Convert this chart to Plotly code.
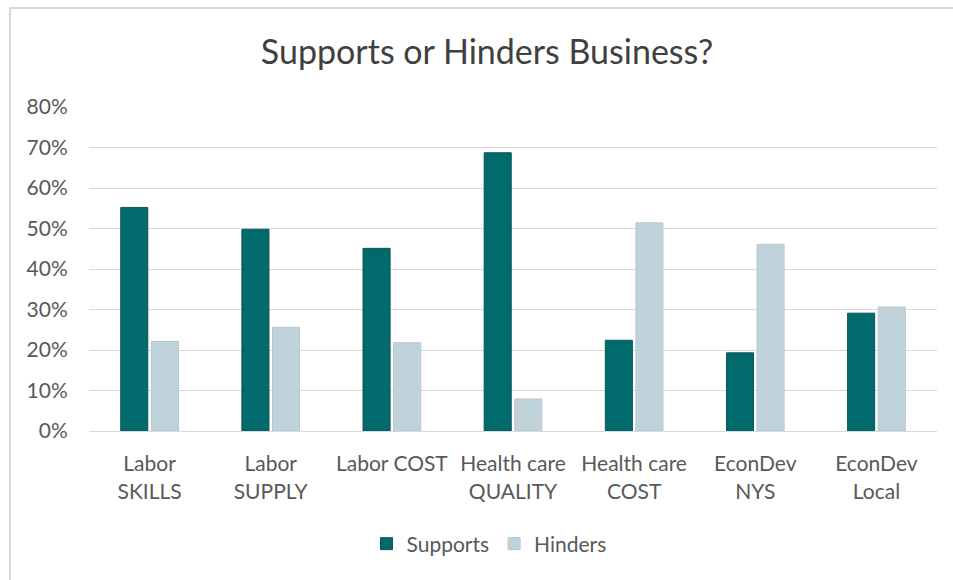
import plotly.graph_objects as go

categories = ["Labor<br>SKILLS", "Labor<br>SUPPLY", "Labor COST", "Health care<br>QUALITY",
              "Health care<br>COST", "EconDev<br>NYS", "EconDev<br>Local"]
supports = [0.552, 0.498, 0.451, 0.687, 0.224, 0.193, 0.291]
hinders = [0.221, 0.256, 0.218, 0.079, 0.514, 0.461, 0.306]
y_ticks = [0, 0.1, 0.2, 0.3, 0.4, 0.5, 0.6, 0.7, 0.8]
y_labels = ["0%", "10%", "20%", "30%", "40%", "50%", "60%", "70%", "80%"]

FONT = "Lato"
TXT = "#595959"

fig = go.Figure()
fig.add_trace(go.Bar(name="Supports", x=categories, y=supports,
                     marker=dict(color="#006A6D", line=dict(color="#0D5557", width=1))))
fig.add_trace(go.Bar(name="Hinders", x=categories, y=hinders,
                     marker=dict(color="#C0D3DA", line=dict(color="#B4C8D0", width=1))))

W, H = 953, 580
L, R, T, B = 89, 16, 107, 149
pw, ph = W - L - R, H - T - B

def px(x):
    return (x - L) / pw

def py(y):
    return (H - B - y) / ph

fig.update_layout(
    width=W, height=H,
    margin=dict(l=L, r=R, t=T, b=B),
    paper_bgcolor="white", plot_bgcolor="white",
    barmode="group", bargap=0.495, bargroupgap=0.115,
    font=dict(family=FONT, color=TXT, size=21),
    title=dict(text="Supports or Hinders Business?", x=487 / W, xref="container", xanchor="center",
               y=1 - 52 / H, yref="container", yanchor="middle",
               font=dict(size=34, color="#404040", family=FONT)),
    legend=dict(orientation="h", x=px(489), xanchor="center", y=py(544), yanchor="middle",
                font=dict(size=21, color=TXT), itemwidth=30, traceorder="normal"),
    xaxis=dict(showgrid=False, showline=True, linecolor="#D9D9D9", linewidth=1,
               ticks="outside", ticklen=14, tickcolor="rgba(0,0,0,0)",
               tickfont=dict(size=21, color=TXT), tickangle=0),
    yaxis=dict(range=[0, 0.8], tickvals=y_ticks, ticktext=y_labels,
               showgrid=True, gridcolor="#D9D9D9", gridwidth=1, zeroline=False,
               ticks="outside", ticklen=16, tickcolor="rgba(0,0,0,0)",
               tickfont=dict(size=21, color=TXT)),
    shapes=[dict(type="rect", xref="paper", yref="paper",
                 x0=px(10), x1=px(W + 20), y0=py(H + 20), y1=py(8),
                 line=dict(color="#D9D9D9", width=2), fillcolor="rgba(0,0,0,0)", layer="below")],
)

fig.write_html("out.html")
